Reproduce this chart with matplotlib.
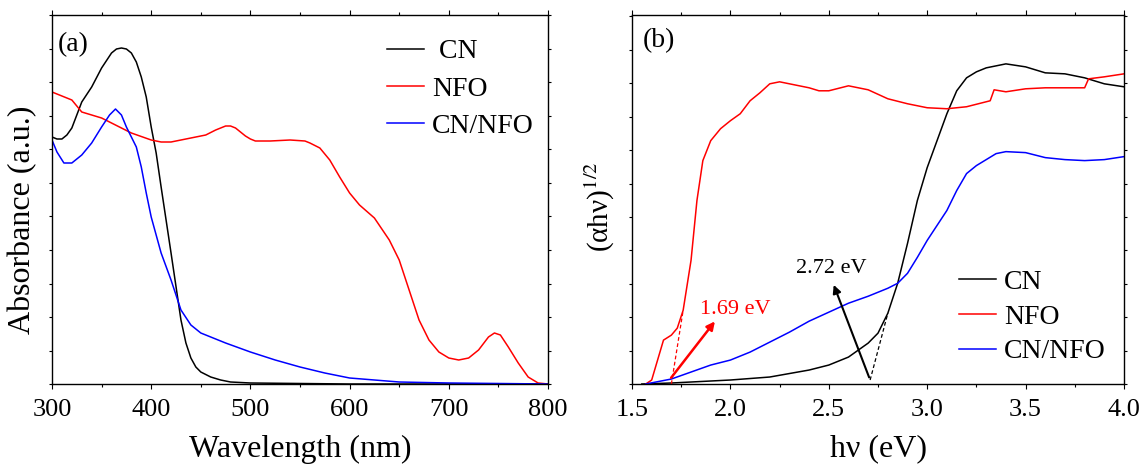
import numpy as np
import matplotlib.pyplot as plt
from matplotlib.ticker import MultipleLocator, NullFormatter

plt.rcParams['font.family'] = ['Liberation Serif', 'DejaVu Serif']
plt.rcParams['mathtext.fontset'] = 'stix'

# (a) UV-vis absorbance
wl_cn = [300, 305, 310, 315, 320, 330, 340, 350, 360, 365, 370, 375, 380, 385, 390, 395, 400, 405, 410,
         420, 430, 435, 440, 445, 450, 460, 470, 480, 500, 600, 800]
abs_cn = [2.47, 2.45, 2.45, 2.49, 2.56, 2.82, 2.97, 3.16, 3.31, 3.35, 3.36, 3.35, 3.31, 3.22, 3.07, 2.87,
          2.57, 2.31, 1.97, 1.31, 0.64, 0.41, 0.26, 0.17, 0.12, 0.07, 0.04, 0.02, 0.01, 0.0, 0.0]

wl_nfo = [300, 320, 330, 350, 370, 380, 400, 410, 420, 440, 455, 465, 475, 480, 485, 490, 495, 500, 505,
          520, 540, 555, 560, 570, 580, 590, 600, 610, 625, 640, 650, 660, 670, 680, 690, 700,
          710, 720, 730, 740, 746, 752, 760, 770, 780, 790, 800]
abs_nfo = [2.92, 2.84, 2.72, 2.66, 2.56, 2.51, 2.44, 2.42, 2.42, 2.46, 2.49, 2.54, 2.58, 2.58, 2.56, 2.52,
           2.48, 2.45, 2.43, 2.43, 2.44, 2.43, 2.41, 2.36, 2.24, 2.07, 1.91, 1.79, 1.66, 1.44, 1.24, 0.94,
           0.64, 0.44, 0.32, 0.26, 0.24, 0.26, 0.34, 0.47, 0.51, 0.49, 0.37, 0.21, 0.07, 0.01, 0.0]

wl_mix = [300, 305, 312, 320, 330, 340, 350, 358, 364, 370, 375, 385, 390, 395, 400, 410,
          420, 430, 440, 450, 475, 500, 525, 550, 575, 600, 650, 700, 800]
abs_mix = [2.44, 2.32, 2.21, 2.21, 2.29, 2.41, 2.57, 2.69, 2.75, 2.69, 2.57, 2.37, 2.17, 1.91, 1.67, 1.31,
           1.04, 0.74, 0.59, 0.51, 0.41, 0.32, 0.24, 0.17, 0.11, 0.06, 0.02, 0.01, 0.0]

# (b) Tauc plot
e_cn = [1.55, 1.7, 2.0, 2.2, 2.4, 2.5, 2.6, 2.7, 2.75, 2.8, 2.85, 2.9, 2.95, 3.0, 3.05, 3.1,
        3.15, 3.2, 3.25, 3.3, 3.4, 3.5, 3.6, 3.7, 3.8, 3.9, 4.0]
t_cn = [0.0, 0.01, 0.04, 0.07, 0.14, 0.19, 0.27, 0.41, 0.51, 0.71, 1.01, 1.41, 1.84, 2.17, 2.44, 2.71,
        2.94, 3.07, 3.13, 3.17, 3.21, 3.18, 3.12, 3.11, 3.07, 3.01, 2.98]

e_nfo = [1.57, 1.6, 1.63, 1.66, 1.7, 1.73, 1.76, 1.8, 1.83, 1.86, 1.9, 1.95, 2.0, 2.05, 2.1, 2.15,
         2.2, 2.25, 2.3, 2.4, 2.45, 2.5, 2.6, 2.7, 2.8, 2.9, 3.0, 3.1, 3.2, 3.3, 3.32, 3.34,
         3.4, 3.5, 3.6, 3.7, 3.8, 3.82, 3.9, 4.0]
t_nfo = [0.0, 0.04, 0.24, 0.44, 0.49, 0.56, 0.74, 1.24, 1.84, 2.24, 2.44, 2.56, 2.64, 2.71, 2.84, 2.92,
         3.01, 3.03, 3.01, 2.97, 2.94, 2.94, 2.99, 2.95, 2.86, 2.81, 2.77, 2.76, 2.78, 2.83, 2.84, 2.95,
         2.93, 2.96, 2.97, 2.97, 2.97, 3.06, 3.08, 3.11]

e_mix = [1.57, 1.7, 1.8, 1.9, 2.0, 2.1, 2.2, 2.3, 2.4, 2.5, 2.6, 2.7, 2.8, 2.85, 2.9, 2.95,
         3.0, 3.1, 3.15, 3.2, 3.25, 3.3, 3.35, 3.4, 3.5, 3.6, 3.7, 3.8, 3.9, 4.0]
t_mix = [0.0, 0.05, 0.12, 0.19, 0.24, 0.32, 0.42, 0.52, 0.63, 0.72, 0.81, 0.88, 0.96, 1.01, 1.11, 1.27,
         1.44, 1.74, 1.94, 2.11, 2.19, 2.25, 2.31, 2.33, 2.32, 2.27, 2.25, 2.24, 2.25, 2.28]

# band-gap tangents and arrows
tan_nfo_x = [1.70, 1.76]
tan_nfo_y = [0.0, 0.74]
tan_cn_x = [2.71, 2.80]
tan_cn_y = [0.04, 0.71]

fig = plt.figure(figsize=(11.43, 4.67), dpi=100)
ax1 = fig.add_axes([52 / 1143, 1 - 384 / 467, 496 / 1143, 369 / 467])
ax2 = fig.add_axes([632 / 1143, 1 - 384 / 467, 492 / 1143, 369 / 467])

ax1.plot(wl_cn, abs_cn, color='black', lw=1.1, label=' CN')
ax1.plot(wl_nfo, abs_nfo, color='red', lw=1.1, label='NFO')
ax1.plot(wl_mix, abs_mix, color='blue', lw=1.1, label='CN/NFO')
ax1.set_xlim(300, 800)
ax1.set_ylim(0, 3.69)
ax1.xaxis.set_major_locator(MultipleLocator(100))
ax1.xaxis.set_minor_locator(MultipleLocator(50))
ax1.set_xlabel('Wavelength (nm)', fontsize=23, labelpad=10)
ax1.set_ylabel('Absorbance (a.u.)', fontsize=23)
ax1.yaxis.set_label_coords(-0.03, 0.444)
ax1.text(0.012, 0.955, '(a)', transform=ax1.transAxes, fontsize=20, va='top')
ax1.legend(loc='upper left', bbox_to_anchor=(0.653, 0.965), frameon=False, fontsize=20,
           handlelength=1.33, handletextpad=0.29, labelspacing=0.42, borderaxespad=0)

ax2.plot(e_cn, t_cn, color='black', lw=1.1, label='CN')
ax2.plot(e_nfo, t_nfo, color='red', lw=1.1, label='NFO')
ax2.plot(e_mix, t_mix, color='blue', lw=1.1, label='CN/NFO')
ax2.plot(tan_nfo_x, tan_nfo_y, color='red', lw=0.9, ls=(0, (3, 2)))
ax2.plot(tan_cn_x, tan_cn_y, color='black', lw=0.9, ls=(0, (3, 2)))
ax2.annotate('', xy=(1.93, 0.65), xytext=(1.69, 0.04),
             arrowprops=dict(arrowstyle='-|>', color='red', lw=1.8, mutation_scale=12))
ax2.annotate('', xy=(2.52, 1.02), xytext=(2.71, 0.04),
             arrowprops=dict(arrowstyle='-|>', color='black', lw=1.5, mutation_scale=12))
ax2.text(1.845, 0.75, '1.69 eV', color='red', fontsize=16, va='center')
ax2.text(2.335, 1.16, '2.72 eV', color='black', fontsize=16, va='center')
ax2.set_xlim(1.5, 4.0)
ax2.set_ylim(0, 3.70)
ax2.xaxis.set_major_locator(MultipleLocator(0.5))
ax2.xaxis.set_minor_locator(MultipleLocator(0.25))
ax2.xaxis.set_major_formatter(plt.FormatStrFormatter('%.1f'))
ax2.set_xlabel('hν (eV)', fontsize=23, labelpad=10)
ax2.set_ylabel(r'(αhν)$^{1/2}$', fontsize=21)
ax2.yaxis.set_label_coords(-0.03, 0.48)
ax2.text(0.022, 0.965, '(b)', transform=ax2.transAxes, fontsize=20, va='top')
ax2.legend(loc='upper left', bbox_to_anchor=(0.642, 0.34), frameon=False, fontsize=20,
           handlelength=1.33, handletextpad=0.29, labelspacing=0.33, borderaxespad=0)

for ax in (ax1, ax2):
    ax.yaxis.set_major_locator(MultipleLocator(0.335))
    ax.yaxis.set_major_formatter(NullFormatter())
    ax.tick_params(which='both', direction='out', top=True, right=True, width=0.8)
    ax.tick_params(which='major', length=3.5, labelsize=19, pad=7)
    ax.tick_params(which='minor', length=2.5)
    ax.tick_params(axis='y', which='both', length=2.5)
    for s in ax.spines.values():
        s.set_linewidth(1.0)

fig.savefig('out.png', dpi=100)
